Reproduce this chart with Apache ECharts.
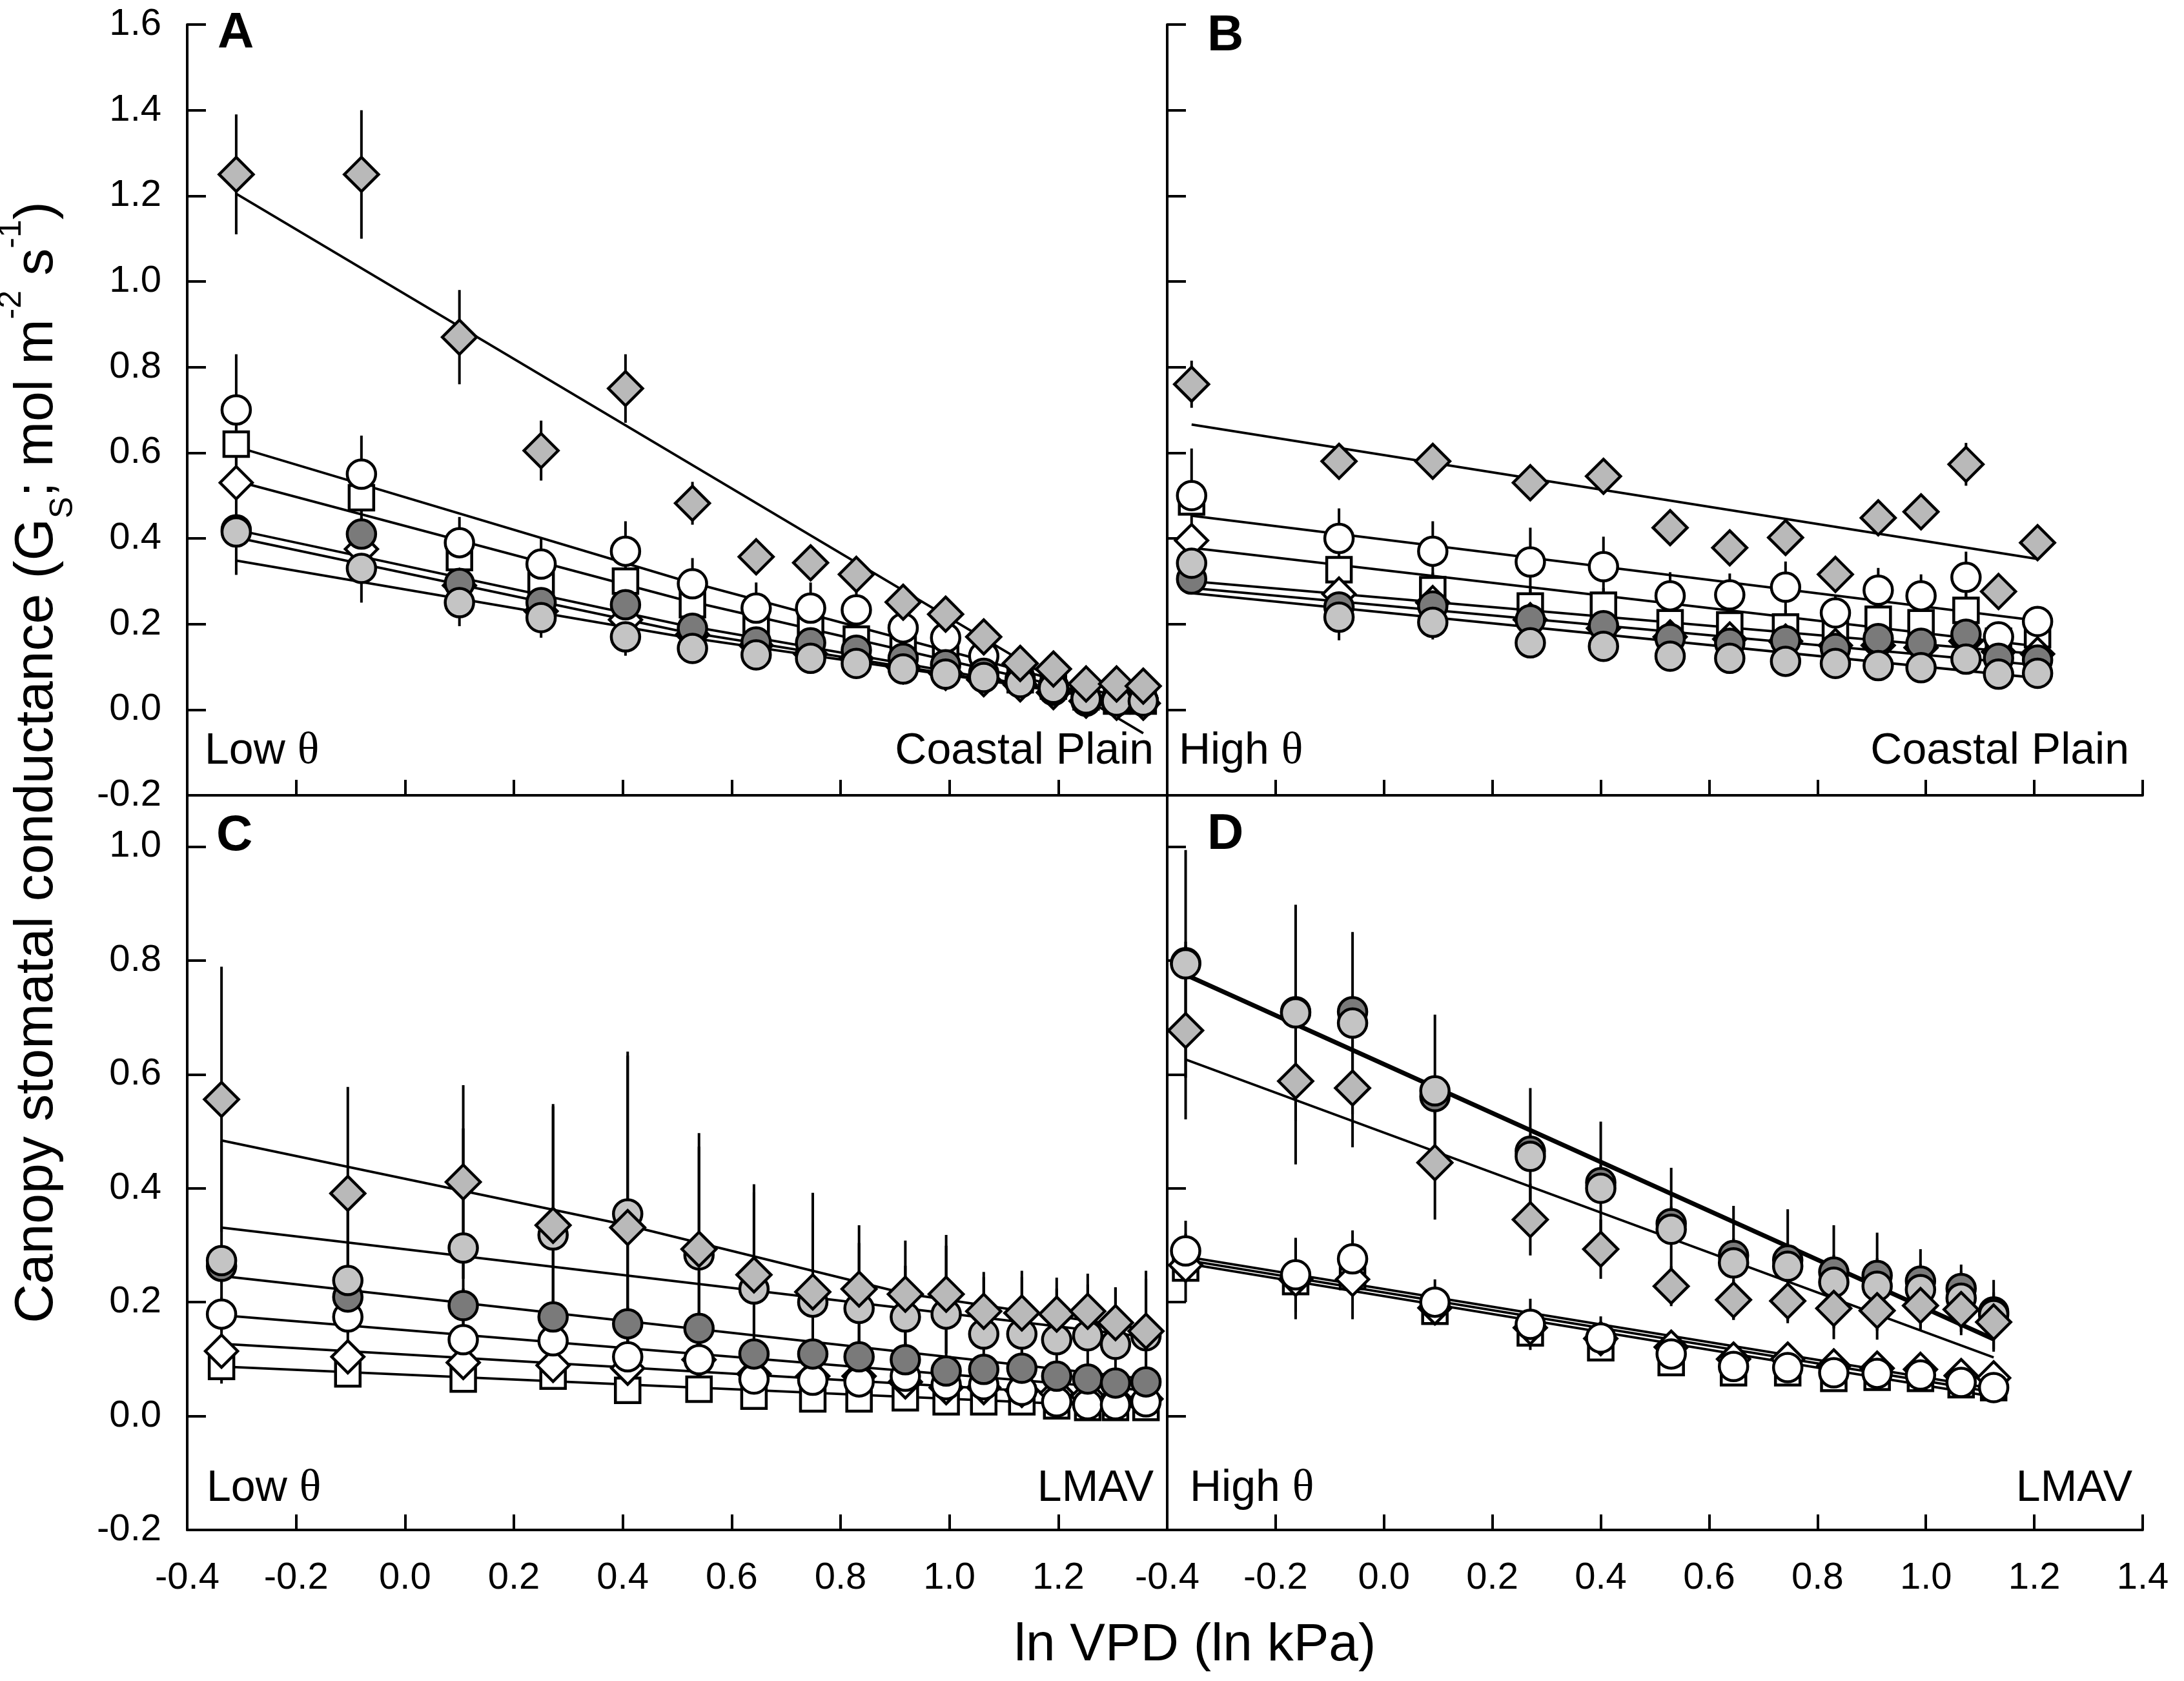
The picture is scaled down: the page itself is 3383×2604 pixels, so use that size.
<!DOCTYPE html>
<html>
<head>
<meta charset="utf-8">
<script src="https://cdn.jsdelivr.net/npm/echarts/dist/echarts.min.js"></script>
<style>html,body{margin:0;padding:0;background:#fff}#c{width:3383px;height:2604px}</style>
</head>
<body>
<div id="c"></div>
<script>
// ---------------- DATA ----------------
// Panel A: Coastal Plain, Low theta
const xA = [-0.31, -0.08, 0.10, 0.25, 0.405, 0.528, 0.645, 0.745, 0.829, 0.915, 0.993, 1.063, 1.13, 1.191, 1.251, 1.307, 1.356];
const A_GD  = [1.25, 1.25, 0.87, 0.605, 0.75, 0.482, 0.357, 0.343, 0.316, 0.251, 0.223, 0.17, 0.108, 0.095, 0.06, 0.06, 0.055];
const A_GDe = [0.14, 0.15, 0.11, 0.07, 0.08, 0.05, 0.035, 0.03, 0.03, 0.025, 0.02, 0.02, 0.015, 0.01, 0.01, 0.01, 0.01];
const A_OC  = [0.70, 0.55, 0.39, 0.34, 0.37, 0.294, 0.237, 0.237, 0.233, 0.191, 0.168, 0.125, 0.072, 0.055, 0.02, 0.02, 0.02];
const A_OCe = [0.13, 0.09, 0.06, 0.06, 0.07, 0.06, 0.06, 0.06, 0.06, 0.05, 0.04, 0.03, 0.02, 0.02, 0.01, 0.01, 0.01];
const A_SQ  = [0.62, 0.495, 0.355, 0.29, 0.30, 0.245, 0.203, 0.196, 0.165, 0.143, 0.125, 0.10, 0.07, 0.055, 0.03, 0.02, 0.02];
const A_SQe = [0.05, 0.07, 0.05, 0.05, 0.05, 0.05, 0.05, 0.05, 0.05, 0.04, 0.04, 0.03, 0.02, 0.02, 0.01, 0.01, 0.01];
const A_OD  = [0.53, 0.375, 0.29, 0.23, 0.21, 0.175, 0.15, 0.13, 0.12, 0.10, 0.085, 0.07, 0.058, 0.04, 0.02, 0.015, 0.015];
const A_ODe = [0.04, 0.04, 0.03, 0.03, 0.03, 0.03, 0.02, 0.02, 0.02, 0.02, 0.02, 0.02, 0.01, 0.01, 0.01, 0.01, 0.01];
const A_DC  = [0.42, 0.41, 0.295, 0.25, 0.245, 0.19, 0.158, 0.156, 0.139, 0.12, 0.105, 0.085, 0.065, 0.045, 0.025, 0.025, 0.02];
const A_DCe = [0.03, 0.04, 0.03, 0.03, 0.03, 0.02, 0.02, 0.02, 0.02, 0.02, 0.02, 0.02, 0.01, 0.01, 0.01, 0.01, 0.01];
const A_LC  = [0.415, 0.33, 0.25, 0.215, 0.17, 0.143, 0.128, 0.12, 0.108, 0.095, 0.083, 0.075, 0.063, 0.05, 0.025, 0.02, 0.02];
const A_LCe = [0.10, 0.08, 0.055, 0.047, 0.044, 0.03, 0.03, 0.02, 0.02, 0.02, 0.02, 0.02, 0.01, 0.01, 0.01, 0.01, 0.01];
const A_fitGD = [[-0.31, 1.205], [1.356, -0.055]];
const A_fitOC = [[-0.31, 0.614], [0.5, 0.306], [1.356, 0.015]];
const A_fitSQ = [[-0.31, 0.534], [0.5, 0.26], [1.356, 0.01]];
const A_fitOD = [[-0.31, 0.42], [0.5, 0.20], [1.356, 0.01]];
const A_fitDC = [[-0.31, 0.402], [0.5, 0.185], [1.356, 0.01]];
const A_fitLC = [[-0.31, 0.348], [0.5, 0.172], [1.356, 0.015]];

// Panel B: Coastal Plain, High theta
const xB = [-0.355, -0.083, 0.09, 0.27, 0.405, 0.528, 0.638, 0.741, 0.833, 0.912, 0.991, 1.074, 1.134, 1.206];
const B_GD  = [0.76, 0.58, 0.58, 0.53, 0.545, 0.425, 0.378, 0.402, 0.316, 0.448, 0.462, 0.573, 0.276, 0.39];
const B_GDe = [0.055, 0.025, 0.025, 0.025, 0.025, 0.02, 0.02, 0.02, 0.02, 0.02, 0.02, 0.05, 0.02, 0.02];
const B_OC  = [0.50, 0.40, 0.37, 0.345, 0.334, 0.266, 0.268, 0.286, 0.226, 0.279, 0.266, 0.309, 0.17, 0.206];
const B_OCe = [0.11, 0.07, 0.07, 0.08, 0.07, 0.055, 0.05, 0.06, 0.04, 0.052, 0.05, 0.06, 0.03, 0.02];
const B_SQ  = [0.485, 0.327, 0.28, 0.242, 0.244, 0.203, 0.198, 0.193, 0.176, 0.211, 0.203, 0.232, 0.16, 0.175];
const B_SQe = [0.03, 0.04, 0.04, 0.04, 0.04, 0.04, 0.04, 0.04, 0.04, 0.04, 0.04, 0.04, 0.03, 0.03];
const B_OD  = [0.395, 0.27, 0.25, 0.21, 0.19, 0.17, 0.165, 0.16, 0.15, 0.15, 0.145, 0.16, 0.135, 0.13];
const B_ODe = [0.03, 0.03, 0.03, 0.03, 0.03, 0.03, 0.03, 0.03, 0.03, 0.03, 0.03, 0.03, 0.03, 0.03];
const B_DC  = [0.305, 0.24, 0.242, 0.21, 0.196, 0.166, 0.155, 0.161, 0.143, 0.166, 0.155, 0.176, 0.12, 0.116];
const B_DCe = [0.03, 0.03, 0.03, 0.03, 0.03, 0.03, 0.03, 0.03, 0.03, 0.03, 0.03, 0.03, 0.03, 0.03];
const B_LC  = [0.342, 0.216, 0.204, 0.156, 0.148, 0.125, 0.12, 0.113, 0.108, 0.103, 0.098, 0.118, 0.083, 0.085];
const B_LCe = [0.035, 0.054, 0.04, 0.03, 0.03, 0.03, 0.03, 0.03, 0.02, 0.02, 0.02, 0.02, 0.02, 0.02];
const B_fitGD = [[-0.355, 0.666], [1.206, 0.352]];
const B_fitOC = [[-0.355, 0.453], [1.206, 0.208]];
const B_fitSQ = [[-0.355, 0.378], [1.206, 0.148]];
const B_fitOD = [[-0.355, 0.30], [1.206, 0.13]];
const B_fitDC = [[-0.355, 0.284], [1.206, 0.104]];
const B_fitLC = [[-0.355, 0.272], [1.206, 0.074]];

// Panel C: LMAV, Low theta
const xC = [-0.337, -0.105, 0.107, 0.272, 0.409, 0.540, 0.641, 0.749, 0.834, 0.919, 0.994, 1.063, 1.133, 1.197, 1.254, 1.305, 1.361];
const C_GD  = [0.556, 0.391, 0.411, 0.335, 0.331, 0.293, 0.248, 0.218, 0.223, 0.214, 0.214, 0.184, 0.181, 0.179, 0.184, 0.164, 0.149];
const C_GDe = [0.233, 0.187, 0.17, 0.209, 0.302, 0.204, 0.159, 0.174, 0.112, 0.094, 0.104, 0.069, 0.074, 0.064, 0.066, 0.062, 0.106];
const C_LC  = [0.273, 0.238, 0.295, 0.318, 0.355, 0.283, 0.223, 0.20, 0.189, 0.174, 0.179, 0.144, 0.144, 0.134, 0.141, 0.126, 0.141];
const C_LCe = [0.21, 0.18, 0.21, 0.23, 0.285, 0.19, 0.17, 0.14, 0.115, 0.09, 0.12, 0.10, 0.10, 0.09, 0.09, 0.10, 0.10];
const C_DC  = [0.263, 0.209, 0.194, 0.174, 0.162, 0.154, 0.109, 0.109, 0.104, 0.099, 0.079, 0.082, 0.084, 0.07, 0.065, 0.058, 0.06];
const C_DCe = [0.03, 0.03, 0.03, 0.03, 0.03, 0.03, 0.03, 0.03, 0.03, 0.03, 0.02, 0.02, 0.02, 0.02, 0.02, 0.02, 0.02];
const C_OC  = [0.179, 0.174, 0.134, 0.132, 0.104, 0.099, 0.065, 0.063, 0.06, 0.07, 0.055, 0.055, 0.045, 0.025, 0.02, 0.02, 0.025];
const C_OCe = [0.03, 0.03, 0.03, 0.03, 0.03, 0.03, 0.02, 0.02, 0.02, 0.02, 0.02, 0.02, 0.02, 0.02, 0.01, 0.01, 0.01];
const C_OD  = [0.114, 0.104, 0.094, 0.089, 0.084, 0.099, 0.074, 0.07, 0.07, 0.06, 0.05, 0.05, 0.045, 0.04, 0.035, 0.03, 0.03];
const C_ODe = [0.03, 0.03, 0.02, 0.02, 0.02, 0.02, 0.02, 0.02, 0.02, 0.02, 0.02, 0.02, 0.02, 0.01, 0.01, 0.01, 0.01];
const C_SQ  = [0.087, 0.074, 0.065, 0.07, 0.045, 0.047, 0.035, 0.03, 0.03, 0.032, 0.025, 0.025, 0.025, 0.018, 0.015, 0.015, 0.015];
const C_SQe = [0.03, 0.02, 0.02, 0.02, 0.02, 0.02, 0.02, 0.01, 0.01, 0.01, 0.01, 0.01, 0.01, 0.01, 0.01, 0.01, 0.01];
const C_fitGD = [[-0.337, 0.484], [0.409, 0.335], [0.919, 0.215], [1.361, 0.152]];
const C_fitLC = [[-0.337, 0.331], [1.361, 0.139]];
const C_fitDC = [[-0.337, 0.246], [1.361, 0.065]];
const C_fitOC = [[-0.337, 0.177], [1.361, 0.045]];
const C_fitOD = [[-0.337, 0.127], [1.361, 0.032]];
const C_fitSQ = [[-0.337, 0.087], [1.361, 0.015]];

// Panel D: LMAV, High theta
const xD = [-0.366, -0.163, -0.058, 0.094, 0.27, 0.40, 0.53, 0.645, 0.745, 0.83, 0.91, 0.99, 1.065, 1.125];
const D_LC  = [0.794, 0.708, 0.69, 0.571, 0.456, 0.40, 0.328, 0.269, 0.263, 0.235, 0.228, 0.222, 0.207, 0.178];
const D_LCe = [0.2, 0.19, 0.16, 0.134, 0.12, 0.117, 0.108, 0.10, 0.10, 0.10, 0.094, 0.071, 0.059, 0.061];
const D_DC  = [0.796, 0.71, 0.71, 0.561, 0.465, 0.41, 0.338, 0.282, 0.274, 0.253, 0.247, 0.237, 0.224, 0.183];
const D_DCe = [0.03, 0.03, 0.03, 0.03, 0.03, 0.03, 0.03, 0.03, 0.03, 0.03, 0.03, 0.03, 0.03, 0.03];
const D_GD  = [0.677, 0.588, 0.576, 0.445, 0.345, 0.293, 0.228, 0.204, 0.202, 0.189, 0.185, 0.194, 0.187, 0.165];
const D_GDe = [0.156, 0.146, 0.104, 0.10, 0.063, 0.052, 0.035, 0.035, 0.035, 0.035, 0.035, 0.04, 0.045, 0.052];
const D_OC  = [0.29, 0.248, 0.276, 0.20, 0.161, 0.137, 0.109, 0.087, 0.085, 0.076, 0.075, 0.072, 0.059, 0.05];
const D_OCe = [0.053, 0.065, 0.05, 0.04, 0.045, 0.038, 0.03, 0.02, 0.02, 0.02, 0.02, 0.02, 0.02, 0.02];
const D_OD  = [0.265, 0.24, 0.24, 0.19, 0.155, 0.136, 0.121, 0.10, 0.10, 0.088, 0.084, 0.082, 0.071, 0.067];
const D_ODe = [0.03, 0.07, 0.07, 0.03, 0.03, 0.02, 0.02, 0.02, 0.02, 0.02, 0.02, 0.02, 0.02, 0.02];
const D_SQ  = [0.26, 0.236, 0.245, 0.184, 0.146, 0.12, 0.094, 0.076, 0.076, 0.066, 0.068, 0.066, 0.055, 0.05];
const D_SQe = [0.06, 0.03, 0.03, 0.02, 0.02, 0.02, 0.02, 0.02, 0.02, 0.02, 0.02, 0.02, 0.02, 0.02];
const D_fitLC = [[-0.366, 0.777], [1.125, 0.137]];
const D_fitDC = [[-0.366, 0.773], [1.125, 0.133]];
const D_fitGD = [[-0.366, 0.626], [1.125, 0.103]];
const D_fitOC = [[-0.366, 0.280], [1.125, 0.048]];
const D_fitOD = [[-0.366, 0.274], [1.125, 0.042]];
const D_fitSQ = [[-0.366, 0.268], [1.125, 0.034]];

// Axis tick values
const xMin = -0.4, xMax = 1.4, xStep = 0.2;
const yMinAll = -0.2, yMaxTop = 1.6, yMaxBottom = 1.09, yStep = 0.2;

// ---------------- STYLES ----------------
const FONT = 'Liberation Sans, Arial, Helvetica, sans-serif';
const STY = {
  SQ: { symbol: 'rect',    size: 38, fill: '#ffffff' },
  OD: { symbol: 'diamond', size: 50, fill: '#ffffff' },
  OC: { symbol: 'circle',  size: 44, fill: '#ffffff' },
  DC: { symbol: 'circle',  size: 44, fill: '#7a7a7a' },
  LC: { symbol: 'circle',  size: 44, fill: '#c4c4c4' },
  GD: { symbol: 'diamond', size: 53, fill: '#b9b9b9' }
};

const panels = [
  { x: xA, s: { GD: [A_GD, A_GDe, A_fitGD], OC: [A_OC, A_OCe, A_fitOC], SQ: [A_SQ, A_SQe, A_fitSQ], OD: [A_OD, A_ODe, A_fitOD], DC: [A_DC, A_DCe, A_fitDC], LC: [A_LC, A_LCe, A_fitLC] } },
  { x: xB, s: { GD: [B_GD, B_GDe, B_fitGD], OC: [B_OC, B_OCe, B_fitOC], SQ: [B_SQ, B_SQe, B_fitSQ], OD: [B_OD, B_ODe, B_fitOD], DC: [B_DC, B_DCe, B_fitDC], LC: [B_LC, B_LCe, B_fitLC] } },
  { x: xC, s: { GD: [C_GD, C_GDe, C_fitGD], OC: [C_OC, C_OCe, C_fitOC], SQ: [C_SQ, C_SQe, C_fitSQ], OD: [C_OD, C_ODe, C_fitOD], DC: [C_DC, C_DCe, C_fitDC], LC: [C_LC, C_LCe, C_fitLC] } },
  { x: xD, s: { GD: [D_GD, D_GDe, D_fitGD], OC: [D_OC, D_OCe, D_fitOC], SQ: [D_SQ, D_SQe, D_fitSQ], OD: [D_OD, D_ODe, D_fitOD], DC: [D_DC, D_DCe, D_fitDC], LC: [D_LC, D_LCe, D_fitLC] } }
];
const ORDER = ['SQ', 'OD', 'OC', 'DC', 'LC', 'GD'];

const grids = [
  { left: 290,  top: 38,   width: 1518, height: 1194 },
  { left: 1808, top: 38,   width: 1511, height: 1194 },
  { left: 290,  top: 1232, width: 1518, height: 1138 },
  { left: 1808, top: 1232, width: 1511, height: 1138 }
];

const fmt = v => (Math.abs(v) < 1e-9 ? 0 : v).toFixed(1);
const axisLineStyle = { color: '#000', width: 4 };

const xAxes = grids.map((g, i) => ({
  gridIndex: i, type: 'value', min: xMin, max: xMax, interval: xStep,
  axisLine: { show: true, onZero: false, lineStyle: axisLineStyle },
  axisTick: { show: true, inside: true, length: 24, lineStyle: axisLineStyle },
  splitLine: { show: false },
  axisLabel: { show: i >= 2, margin: 46, fontSize: 58, color: '#000', fontFamily: FONT,
               showMinLabel: true, showMaxLabel: i === 3, formatter: fmt }
}));
const yAxes = grids.map((g, i) => ({
  gridIndex: i, type: 'value', min: yMinAll, max: i < 2 ? yMaxTop : yMaxBottom, interval: yStep,
  axisLine: { show: true, onZero: false, lineStyle: axisLineStyle },
  axisTick: { show: true, inside: true, length: 29, lineStyle: axisLineStyle },
  splitLine: { show: false },
  axisLabel: { show: i === 0 || i === 2, margin: 40, fontSize: 58, color: '#000', fontFamily: FONT,
               showMinLabel: true, showMaxLabel: i < 2, formatter: fmt }
}));

const series = [];
panels.forEach((p, i) => {
  // error bars
  ORDER.forEach(k => {
    const [ys, es] = p.s[k];
    series.push({
      type: 'custom', xAxisIndex: i, yAxisIndex: i, z: 2, silent: true,
      data: p.x.map((xv, j) => [xv, ys[j], es[j]]),
      encode: { x: 0, y: 1 },
      renderItem: (params, api) => {
        const xv = api.value(0), yv = api.value(1), ev = api.value(2);
        const a = api.coord([xv, yv + ev]);
        const b = api.coord([xv, yv - ev]);
        return { type: 'line', shape: { x1: a[0], y1: a[1], x2: b[0], y2: b[1] },
                 style: { stroke: '#000', lineWidth: 4 } };
      }
    });
  });
  // fitted lines
  ORDER.forEach(k => {
    series.push({
      type: 'line', xAxisIndex: i, yAxisIndex: i, z: 3, silent: true,
      data: p.s[k][2], showSymbol: false, symbol: 'none',
      lineStyle: { color: '#000', width: 3.8 }
    });
  });
  // markers
  ORDER.forEach(k => {
    const st = STY[k];
    series.push({
      type: 'scatter', xAxisIndex: i, yAxisIndex: i, z: 4, silent: true,
      data: p.x.map((xv, j) => [xv, p.s[k][0][j]]),
      symbol: st.symbol, symbolSize: st.size,
      itemStyle: { color: st.fill, borderColor: '#000', borderWidth: 4.5, opacity: 1 }
    });
  });
});

const txt = (text, x, y, opts) => ({
  type: 'text', x: x, y: y, z: 100, silent: true,
  style: Object.assign({ text: text, fontSize: 68, fontFamily: FONT, fill: '#000',
                         align: 'left', verticalAlign: 'middle' }, opts || {})
});
const thetaRich = { t: { fontFamily: 'Liberation Serif, DejaVu Serif, serif', fontSize: 70, fill: '#000' },
                    n: { fontFamily: FONT, fontSize: 68, fill: '#000' } };

const graphic = [
  txt('A', 337, 52, { fontSize: 78, fontWeight: 'bold' }),
  txt('B', 1870, 56, { fontSize: 78, fontWeight: 'bold' }),
  txt('C', 335, 1295, { fontSize: 78, fontWeight: 'bold' }),
  txt('D', 1870, 1293, { fontSize: 78, fontWeight: 'bold' }),
  txt('{n|Low }{t|θ}', 317, 1164, { rich: thetaRich }),
  txt('Coastal Plain', 1787, 1164, { align: 'right' }),
  txt('{n|High }{t|θ}', 1826, 1164, { rich: thetaRich }),
  txt('Coastal Plain', 3298, 1164, { align: 'right' }),
  txt('{n|Low }{t|θ}', 320, 2306, { rich: thetaRich }),
  txt('LMAV', 1787, 2306, { align: 'right' }),
  txt('{n|High }{t|θ}', 1843, 2306, { rich: thetaRich }),
  txt('LMAV', 3303, 2306, { align: 'right' }),
  txt('ln VPD (ln kPa)', 1851, 2549, { fontSize: 82, align: 'center' }),
  {
    type: 'text', x: 58, y: 1181, rotation: Math.PI / 2, z: 100, silent: true,
    style: {
      text: '{m|Canopy stomatal conductance (G}{sub|S}{m|; mol m}{sup|-2}{m| s}{sup|-1}{m|)}',
      align: 'center', verticalAlign: 'middle', fill: '#000', fontFamily: FONT, fontSize: 84,
      rich: {
        m:   { fontFamily: FONT, fontSize: 84, lineHeight: 130, fill: '#000' },
        sub: { fontFamily: FONT, fontSize: 50, lineHeight: 46, verticalAlign: 'bottom', fill: '#000' },
        sup: { fontFamily: FONT, fontSize: 50, lineHeight: 104, verticalAlign: 'top', fill: '#000' }
      }
    }
  }
];

const chart = echarts.init(document.getElementById('c'), null, { renderer: 'canvas' });
chart.setOption({
  animation: false,
  backgroundColor: '#ffffff',
  grid: grids,
  xAxis: xAxes,
  yAxis: yAxes,
  series: series,
  graphic: graphic
});
</script>
</body>
</html>
